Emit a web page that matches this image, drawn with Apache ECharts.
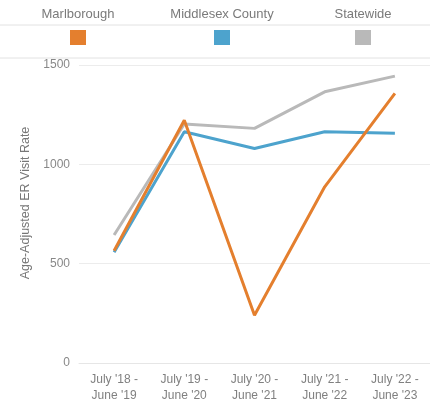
<!DOCTYPE html>
<html><head><meta charset="utf-8">
<script src="https://cdn.jsdelivr.net/npm/echarts@6/dist/echarts.min.js"></script>
<style>html,body{margin:0;padding:0;background:#fff}#c{width:430px;height:407px}</style>
</head><body><div id="c"></div>
<script>
const categories = ["July '18 -\nJune '19", "July '19 -\nJune '20", "July '20 -\nJune '21", "July '21 -\nJune '22", "July '22 -\nJune '23"];
const marlborough = [565, 1222, 240, 887, 1357];
const middlesex = [558, 1164, 1080, 1164, 1156];
const statewide = [644, 1203, 1181, 1365, 1444];
const seriesNames = ["Marlborough", "Middlesex County", "Statewide"];
const colors = ["#E47F2E", "#4DA3CD", "#B9B9B9"];
const yTicks = {min: 0, max: 1500, interval: 500};

const chart = echarts.init(document.getElementById('c'));
const legendX = [78, 222, 363];
const graphic = [
  {type:'line', shape:{x1:0,y1:25,x2:430,y2:25}, style:{stroke:'#e2e2e2', lineWidth:1}},
  {type:'line', shape:{x1:0,y1:58,x2:430,y2:58}, style:{stroke:'#e2e2e2', lineWidth:1}}
];
seriesNames.forEach((n,i)=>{
  graphic.push({type:'text', x:legendX[i], y:14, style:{text:n, fill:'#7a7a7a', font:'13px "Liberation Sans", Arial, sans-serif', textAlign:'center', textVerticalAlign:'middle'}});
  graphic.push({type:'rect', shape:{x:legendX[i]-8, y:30, width:16, height:15}, style:{fill:colors[i]}});
});
chart.setOption({
  animation:false,
  graphic: graphic,
  grid:{left:79, right:-8, top:65, bottom:44},
  xAxis:{type:'category', data:categories, boundaryGap:true,
    axisLine:{lineStyle:{color:'#e6e6e6'}}, axisTick:{show:false},
    axisLabel:{color:'#808080', fontSize:12, fontFamily:'"Liberation Sans", Arial, sans-serif', margin:9, lineHeight:16, interval:0}},
  yAxis:{type:'value', min:yTicks.min, max:yTicks.max, interval:yTicks.interval,
    name:'Age-Adjusted ER Visit Rate', nameLocation:'middle', nameGap:31,
    nameTextStyle:{color:'#777', fontSize:12.5, fontFamily:'"Liberation Sans", Arial, sans-serif', padding:[0,0,0,22]},
    axisLine:{show:false}, axisTick:{show:false},
    axisLabel:{color:'#888', fontSize:12, fontFamily:'"Liberation Sans", Arial, sans-serif', margin:9, formatter:v=>String(v)},
    splitLine:{lineStyle:{color:'#ececec'}}},
  series:[
    {name:seriesNames[2], type:'line', data:statewide, symbol:'none', lineStyle:{color:colors[2], width:3}, z:2},
    {name:seriesNames[1], type:'line', data:middlesex, symbol:'none', lineStyle:{color:colors[1], width:3}, z:3},
    {name:seriesNames[0], type:'line', data:marlborough, symbol:'none', lineStyle:{color:colors[0], width:3}, z:4}
  ]
});
</script></body></html>
